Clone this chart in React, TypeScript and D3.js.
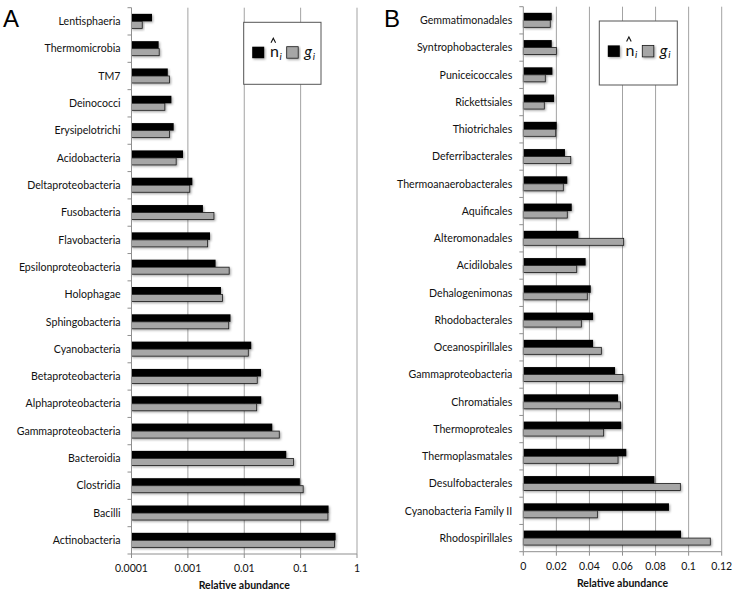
import React from "react";
import * as d3 from "d3";

const categoriesA = [
  "Lentisphaeria", "Thermomicrobia", "TM7", "Deinococci", "Erysipelotrichi",
  "Acidobacteria", "Deltaproteobacteria", "Fusobacteria", "Flavobacteria",
  "Epsilonproteobacteria", "Holophagae", "Sphingobacteria", "Cyanobacteria",
  "Betaproteobacteria", "Alphaproteobacteria", "Gammaproteobacteria",
  "Bacteroidia", "Clostridia", "Bacilli", "Actinobacteria",
];
const nHatA = [
  0.000231, 0.000303, 0.00044, 0.00051, 0.00056, 0.00082, 0.0012, 0.00185,
  0.00247, 0.0031, 0.00386, 0.0057, 0.0133, 0.0198, 0.02, 0.0314, 0.0556,
  0.097, 0.313, 0.417,
];
const gA = [
  0.000155, 0.00031, 0.00047, 0.00039, 0.00047, 0.00062, 0.00108, 0.0029,
  0.00224, 0.0054, 0.0041, 0.0053, 0.0118, 0.017, 0.0166, 0.0418, 0.075,
  0.111, 0.305, 0.398,
];
const ticksA = [0.0001, 0.001, 0.01, 0.1, 1];
const tickLabelsA = ["0.0001", "0.001", "0.01", "0.1", "1"];

const categoriesB = [
  "Gemmatimonadales", "Syntrophobacterales", "Puniceicoccales", "Rickettsiales",
  "Thiotrichales", "Deferribacterales", "Thermoanaerobacterales", "Aquificales",
  "Alteromonadales", "Acidilobales", "Dehalogenimonas", "Rhodobacterales",
  "Oceanospirillales", "Gammaproteobacteria", "Chromatiales", "Thermoproteales",
  "Thermoplasmatales", "Desulfobacterales", "Cyanobacteria Family II",
  "Rhodospirillales",
];
const nHatB = [
  0.0172, 0.0172, 0.0176, 0.0186, 0.0202, 0.0252, 0.0266, 0.0293, 0.0333,
  0.0377, 0.0408, 0.0422, 0.0422, 0.0555, 0.0573, 0.0593, 0.0623, 0.0793,
  0.0881, 0.0954,
];
const gB = [
  0.0163, 0.02, 0.0133, 0.0127, 0.0196, 0.0287, 0.0242, 0.0266, 0.0607,
  0.0323, 0.0387, 0.0351, 0.0472, 0.0603, 0.0587, 0.0486, 0.0573, 0.095,
  0.0448, 0.1131,
];
const ticksB = [0, 0.02, 0.04, 0.06, 0.08, 0.1, 0.12];
const tickLabelsB = ["0", "0.02", "0.04", "0.06", "0.08", "0.1", "0.12"];

const FONT = "Lato, 'Open Sans', sans-serif";
const GRID = "#a3a3a3";
const AXIS = "#8f8f8f";

type PanelProps = {
  letter: string;
  letterX: number;
  categories: string[];
  s1: number[];
  s2: number[];
  ticks: number[];
  tickLabels: string[];
  log: boolean;
  x0: number;
  x1: number;
  y0: number;
  y1: number;
  legend: { x: number; y: number; w: number; h: number };
};

function Panel(p: PanelProps) {
  const x = p.log
    ? d3.scaleLog().domain([p.ticks[0], p.ticks[p.ticks.length - 1]]).range([p.x0, p.x1])
    : d3.scaleLinear().domain([p.ticks[0], p.ticks[p.ticks.length - 1]]).range([p.x0, p.x1]);
  const y = d3
    .scaleBand<string>()
    .domain(p.categories)
    .range([p.y0, p.y1])
    .paddingInner(0.45)
    .paddingOuter(0.225);
  const step = y.step();
  const bw = y.bandwidth() / 2;
  const base = x(p.ticks[0]);
  const L = p.legend;
  const sqY = L.y + 24.4;
  const nx = L.x + 26.3;
  return (
    <g>
      <text x={p.letterX} y={27} fontFamily="Liberation Sans, Arial, sans-serif" fontSize={24}>
        {p.letter}
      </text>
      {p.ticks.slice(1).map((t, i) => (
        <line key={"g" + i} x1={x(t)} x2={x(t)} y1={p.y0} y2={p.y1} stroke={GRID} strokeWidth={1} />
      ))}
      {p.categories.map((c, i) => {
        const yy = y(c)!;
        return (
          <g key={c}>
            <rect x={base} y={yy} width={x(p.s1[i]) - base} height={bw} fill="#000" filter="url(#shadow)" />
            <rect
              x={base}
              y={yy + bw}
              width={x(p.s2[i]) - base}
              height={bw - 0.5}
              fill="#a6a6a6"
              stroke="#1a1a1a"
              strokeWidth={0.8}
              filter="url(#shadow)"
            />
          </g>
        );
      })}
      {/* y axis */}
      <line x1={base} x2={base} y1={p.y0} y2={p.y1} stroke={AXIS} strokeWidth={1} />
      {d3.range(p.categories.length + 1).map((i) => (
        <line key={"yt" + i} x1={base - 4} x2={base} y1={p.y0 + i * step} y2={p.y0 + i * step} stroke={AXIS} />
      ))}
      {p.categories.map((c) => (
        <text
          key={"l" + c}
          x={base - 11}
          y={y(c)! + y.bandwidth() / 2}
          dy="0.35em"
          textAnchor="end"
          fontFamily={FONT}
          fontSize={10.6}
          fill="#111"
        >
          {c}
        </text>
      ))}
      {/* x axis */}
      <line x1={p.x0} x2={p.x1} y1={p.y1} y2={p.y1} stroke={AXIS} strokeWidth={1} />
      {p.ticks.map((t, i) => (
        <g key={"xt" + i}>
          <line x1={x(t)} x2={x(t)} y1={p.y1} y2={p.y1 + 4} stroke={AXIS} />
          <text x={x(t)} y={p.y1 + 18} textAnchor="middle" fontFamily={FONT} fontSize={10.5} fill="#111">
            {p.tickLabels[i]}
          </text>
        </g>
      ))}
      <text
        x={(p.x0 + p.x1) / 2}
        y={p.y1 + 35}
        textAnchor="middle"
        fontFamily={FONT}
        fontWeight="bold"
        fontSize={10.5}
        fill="#111"
      >
        Relative abundance
      </text>
      {/* legend */}
      <rect x={L.x} y={L.y} width={L.w} height={L.h} fill="#fff" stroke="#555" strokeWidth={1} />
      <rect x={L.x + 8.5} y={sqY} width={12} height={11.5} fill="#000" filter="url(#shadow)" />
      <text x={nx} y={sqY + 10.3} fontFamily={FONT} fontSize={16} fill="#111">
        n
      </text>
      <path
        d={`M${nx + 1},${sqY - 4} L${nx + 3.3},${sqY - 8.5} L${nx + 5.6},${sqY - 4}`}
        fill="none"
        stroke="#111"
        strokeWidth={1.1}
      />
      <text x={nx + 9.5} y={sqY + 13} fontFamily={FONT} fontStyle="italic" fontSize={10} fill="#111">
        i
      </text>
      <rect
        x={L.x + 43}
        y={sqY}
        width={11.5}
        height={11.5}
        fill="#a6a6a6"
        stroke="#1a1a1a"
        strokeWidth={0.8}
        filter="url(#shadow)"
      />
      <text x={L.x + 60.5} y={sqY + 10.3} fontFamily={FONT} fontStyle="italic" fontSize={16} fill="#111">
        g
      </text>
      <text x={L.x + 69} y={sqY + 13} fontFamily={FONT} fontStyle="italic" fontSize={10} fill="#111">
        i
      </text>
    </g>
  );
}

export default function App() {
  return (
    <svg width={735} height={594} style={{ position: "absolute", left: 0, top: 0, background: "#fff" }}>
      <defs>
        <filter id="shadow" x="-10%" y="-30%" width="130%" height="180%">
          <feDropShadow dx={1.2} dy={1.2} stdDeviation={0.9} floodColor="#000" floodOpacity={0.35} />
        </filter>
      </defs>
      <rect width={735} height={594} fill="#fff" />
      <Panel
        letter="A"
        letterX={3}
        categories={categoriesA}
        s1={nHatA}
        s2={gA}
        ticks={ticksA}
        tickLabels={tickLabelsA}
        log={true}
        x0={131.5}
        x1={357}
        y0={7.7}
        y1={554}
        legend={{ x: 243.7, y: 22.3, w: 77.3, h: 62 }}
      />
      <Panel
        letter="B"
        letterX={384}
        categories={categoriesB}
        s1={nHatB}
        s2={gB}
        ticks={ticksB}
        tickLabels={tickLabelsB}
        log={false}
        x0={523.3}
        x1={721.7}
        y0={6.7}
        y1={551.7}
        legend={{ x: 599.3, y: 21, w: 78, h: 64 }}
      />
    </svg>
  );
}
